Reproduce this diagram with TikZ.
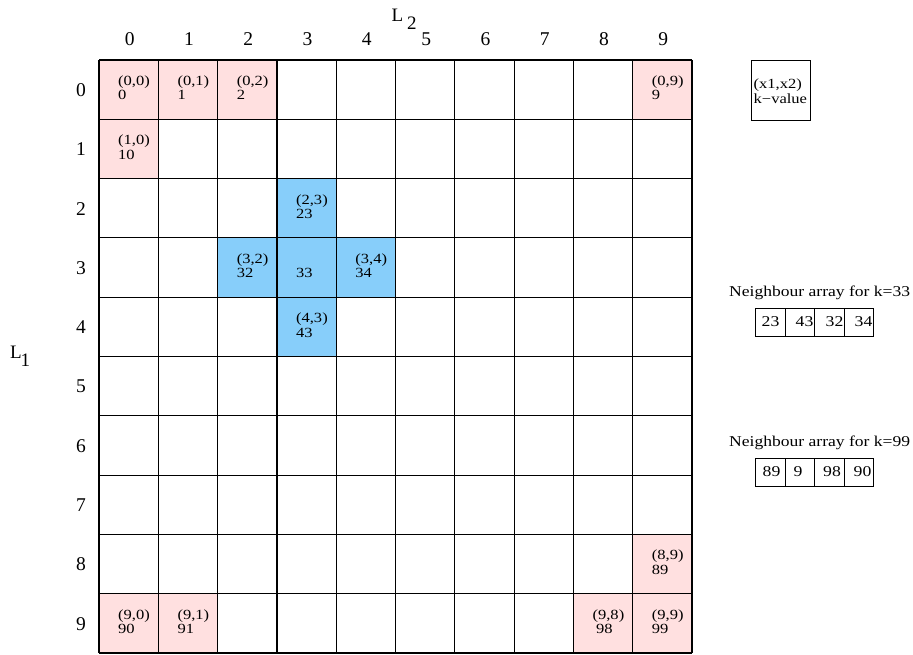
\documentclass[tikz,border=0pt]{standalone}
\usepackage{fontspec}
\setmainfont{Liberation Serif}
\definecolor{cpink}{RGB}{255,224,224}
\definecolor{cblue}{RGB}{135,206,250}
\newcommand{\sx}[1]{\scalebox{1.18}[1]{#1}}
\begin{document}
\begin{tikzpicture}[x=1pt,y=-1pt,
  gridline/.style={line width=1.2pt,black},
  celltxt/.style={anchor=base west,inner sep=0pt,font=\fontsize{14}{14}\selectfont},
  hdr/.style={anchor=base,inner sep=0pt,font=\fontsize{19.5}{19.5}\selectfont},
  axlbl/.style={anchor=base west,inner sep=0pt,font=\fontsize{19}{19}\selectfont},
  nbtxt/.style={anchor=base west,inner sep=0pt,font=\fontsize{15}{15}\selectfont},
  arrcell/.style={draw,line width=0.9pt,inner sep=0pt,anchor=north west,minimum width=29.5pt,minimum height=28pt},
  keybox/.style={draw,line width=1.2pt,inner sep=0pt,anchor=north west,minimum width=59pt,minimum height=60pt}]
\useasboundingbox (0,0) rectangle (913,655);
\def\W{59.3}
% coloured cells
\foreach \r/\c in {0/0,0/1,0/2,0/9,1/0,8/9,9/0,9/1,9/8,9/9}
  \fill[cpink] ({99+\c*\W},{60+\r*\W}) rectangle ++(\W,\W);
\foreach \r/\c in {2/3,3/2,3/3,3/4,4/3}
  \fill[cblue] ({99+\c*\W},{60+\r*\W}) rectangle ++(\W,\W);
% grid
\foreach \i in {0,...,10} {
  \draw[gridline] ({99+\i*\W},60) -- ({99+\i*\W},653);
  \draw[gridline] (99,{60+\i*\W}) -- (692,{60+\i*\W});
}
% headers
\foreach \i in {0,...,9} {
  \node[hdr] (col\i) at ({99+(\i+0.5)*\W+1},45.5) {\i};
  \node[hdr] (row\i) at (81,{60+(\i+0.5)*\W+6.8}) {\i};
}
% axis labels
\node[axlbl] (L2a) at (391.5,22) {L};
\node[axlbl] (L2b) at (407,30) {2};
\node[axlbl] (L1a) at (10,358) {L};
\node[axlbl] (L1b) at (20.5,366.5) {1};
% cell texts
\foreach \r/\c/\v in {0/0/0,0/1/1,0/2/2,0/9/9,1/0/10,8/9/89,9/0/90,9/1/91,9/9/99,2/3/23,3/2/32,3/4/34,4/3/43} {
  \node[celltxt] (t\r\c) at ({99+\c*\W+19},{60+\r*\W+25.5}) {\sx{(\r,\c)}};
  \node[celltxt] (v\r\c) at ({99+\c*\W+19},{60+\r*\W+40}) {\sx{\v}};
}
\node[celltxt] (t98) at ({99+8*\W+19},{60+9*\W+25.5}) {\sx{(9,8)}};
\node[celltxt] (v98) at ({99+8*\W+22.5},{60+9*\W+40}) {\sx{98}};
\node[celltxt] (v33) at ({99+3*\W+19},{60+3*\W+40}) {\sx{33}};
% key box
\node[keybox] (key) at (751,60) {};
\node[celltxt] (keya) at (753.5,89) {\sx{(x1,x2)}};
\node[celltxt] (keyb) at (753.5,103.5) {\sx{k\char"2212 value}};
% neighbour arrays
\node[nbtxt] (nl1) at (729,296.7) {\scalebox{1.17}[1]{Neighbour array for k=33}};
\node[arrcell] (a1) at (755,307.5) {};
\node[arrcell] (a2) at (784.5,307.5) {};
\node[arrcell] (a3) at (814,307.5) {};
\node[arrcell] (a4) at (843.5,307.5) {};
\node[nbtxt] (n11) at (761.5,326.7) {\sx{23}};
\node[nbtxt] (n12) at (795.5,326.7) {\sx{43}};
\node[nbtxt] (n13) at (825.5,326.7) {\sx{32}};
\node[nbtxt] (n14) at (854.5,326.7) {\sx{34}};
\node[nbtxt] (nl2) at (729,446.7) {\scalebox{1.17}[1]{Neighbour array for k=99}};
\node[arrcell] (b1) at (755,457.5) {};
\node[arrcell] (b2) at (784.5,457.5) {};
\node[arrcell] (b3) at (814,457.5) {};
\node[arrcell] (b4) at (843.5,457.5) {};
\node[nbtxt] (n21) at (762.5,476.7) {\sx{89}};
\node[nbtxt] (n22) at (793.5,476.7) {\sx{9}};
\node[nbtxt] (n23) at (823,476.7) {\sx{98}};
\node[nbtxt] (n24) at (853.5,476.7) {\sx{90}};
\end{tikzpicture}
\end{document}
